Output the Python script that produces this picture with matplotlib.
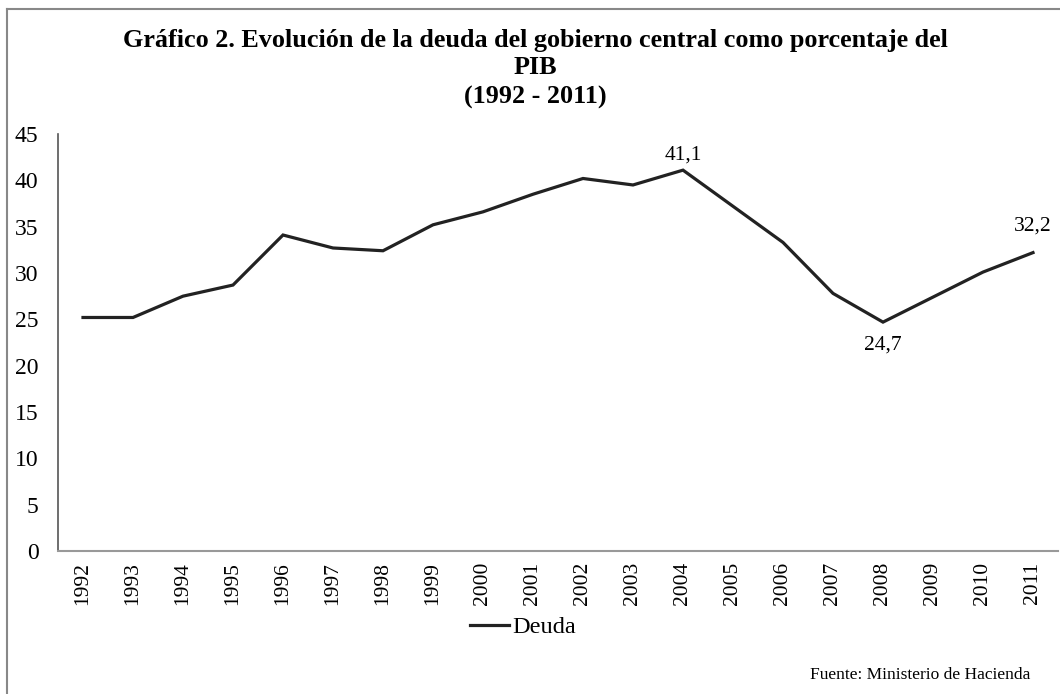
import matplotlib
matplotlib.use("Agg")
import matplotlib.pyplot as plt
from matplotlib.lines import Line2D

years = ["1992", "1993", "1994", "1995", "1996", "1997", "1998", "1999", "2000", "2001",
         "2002", "2003", "2004", "2005", "2006", "2007", "2008", "2009", "2010", "2011"]
deuda = [25.2, 25.2, 27.5, 28.7, 34.1, 32.7, 32.4, 35.2, 36.6, 38.5,
         40.2, 39.5, 41.1, 37.2, 33.3, 27.8, 24.7, 27.4, 30.1, 32.2]
labeled = {"2004": "41,1", "2008": "24,7", "2011": "32,2"}
yticks = [0, 5, 10, 15, 20, 25, 30, 35, 40, 45]

plt.rcParams['font.family'] = ['Liberation Serif', 'DejaVu Serif']

W, H = 1060, 694
fig = plt.figure(figsize=(W / 100, H / 100), dpi=100)
ax = fig.add_axes([58 / W, 1 - 551 / H, 1000 / W, (551 - 134) / H])

x = list(range(len(years)))
ax.plot(x, deuda, color="#222222", lw=2.3, solid_joinstyle="miter", label="Deuda")

ax.set_xlim(-0.5, len(years) - 0.5)
ax.set_ylim(0, 45)
ax.set_yticks(yticks)
ax.set_yticklabels([str(v) for v in yticks], fontsize=17)
ax.set_xticks(x)
ax.set_xticklabels(years, rotation=90, fontsize=15.5)
ax.tick_params(axis="x", length=0, pad=8)
ax.tick_params(axis="y", length=0, pad=14)
for s in ["top", "right"]:
    ax.spines[s].set_visible(False)
ax.spines["left"].set_color("#555555")
ax.spines["left"].set_linewidth(1.2)
ax.spines["bottom"].set_color("#999999")
ax.spines["bottom"].set_linewidth(1.5)

for i, yr in enumerate(years):
    if yr in labeled:
        if yr == "2008":
            ax.annotate(labeled[yr], (i, deuda[i]), xytext=(0, -10), textcoords="offset points",
                        ha="center", va="top", fontsize=15.5)
        elif yr == "2011":
            ax.annotate(labeled[yr], (i, deuda[i]), xytext=(0, 12), textcoords="offset points",
                        ha="center", va="bottom", fontsize=15.5)
        else:
            ax.annotate(labeled[yr], (i, deuda[i]), xytext=(0, 4), textcoords="offset points",
                        ha="center", va="bottom", fontsize=15.5)

tx = 535 / W
fig.text(tx, 1 - 40 / H, "Gráfico 2. Evolución de la deuda del gobierno central como porcentaje del",
         ha="center", va="center", fontsize=18.8, fontweight="bold")
fig.text(tx, 1 - 68 / H, "PIB", ha="center", va="center", fontsize=18.8, fontweight="bold")
fig.text(tx, 1 - 97 / H, "(1992 - 2011)", ha="center", va="center", fontsize=18.8, fontweight="bold")

handle = Line2D([], [], color="#222222", lw=2.3)
fig.legend([handle], ["Deuda"], loc="center", bbox_to_anchor=(523 / W, 1 - 627 / H),
           frameon=False, fontsize=17.5, handlelength=1.6, handletextpad=0.1)

fig.text(1030 / W, 1 - 675 / H, "Fuente: Ministerio de Hacienda", ha="right", va="center", fontsize=12.5)

# outer frame
fig.add_artist(Line2D([7 / W, 7 / W], [0, 1 - 9 / H], color="#888888", lw=1.5))
fig.add_artist(Line2D([7 / W, 1], [1 - 9 / H, 1 - 9 / H], color="#888888", lw=1.5))

fig.savefig("out.png", dpi=100)
